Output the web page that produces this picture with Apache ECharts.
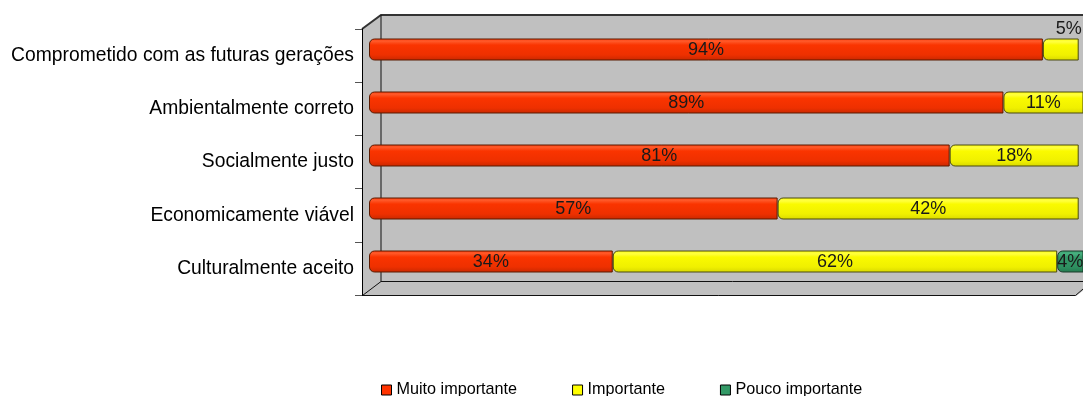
<!DOCTYPE html>
<html>
<head>
<meta charset="utf-8">
<script src="https://cdn.jsdelivr.net/npm/echarts@6/dist/echarts.min.js"></script>
<style>
html,body{margin:0;padding:0;background:#fff;}
#chart{width:1083px;height:396px;}
</style>
</head>
<body>
<div id="chart"></div>
<script>
const categories = ['Comprometido com as futuras gerações', 'Ambientalmente correto', 'Socialmente justo', 'Economicamente viável', 'Culturalmente aceito'];
const seriesNames = ['Muito importante', 'Importante', 'Pouco importante'];
const muitoImportante = [94, 88.5, 81, 57, 34];
const importante = [5, 11.4, 18, 42, 62];
const poucoImportante = [0, 0, 0, 0, 4];

const FONT = 'Liberation Sans, Arial, sans-serif';
const chart = echarts.init(document.getElementById('chart'), null, {renderer: 'canvas'});

function grad(stops) {
  return {type: 'linear', x: 0, y: 0, x2: 0, y2: 1,
    colorStops: stops.map(s => ({offset: s[0], color: s[1]}))};
}
const styles = [
  {fill: grad([[0, '#FF3A0A'], [0.12, '#FF5A2A'], [0.3, '#FA3400'], [0.75, '#EE3000'], [1, '#C82800']]), border: '#5A1A00', legend: '#FF3300'},
  {fill: grad([[0, '#FFFF10'], [0.15, '#FFFF40'], [0.3, '#FAFA00'], [0.75, '#F0F000'], [1, '#D8D800']]), border: '#4A4A10', legend: '#FFFF00'},
  {fill: grad([[0, '#3AA070'], [0.15, '#48B080'], [0.3, '#349868'], [0.75, '#2E9060'], [1, '#247A50']]), border: '#1A3A2A', legend: '#339966'}
];
const values = [muitoImportante, importante, poucoImportante];

const labelBase = {
  show: true, position: 'inside', offset: [0, 1], color: '#1a1a1a', fontSize: 18, fontFamily: FONT,
  formatter: p => Math.round(p.value) + '%'
};

const series = values.map((arr, si) => ({
  name: seriesNames[si],
  type: 'bar',
  stack: 'total',
  xAxisIndex: 1,
  yAxisIndex: 1,
  barWidth: 22,
  z: 3,
  itemStyle: {color: styles[si].fill, borderColor: styles[si].border, borderWidth: 1, borderRadius: [5, 0, 0, 5]},
  label: labelBase,
  data: arr.map(v => {
    if (!(v > 0)) return '-';
    if (v < 8 && si === 1) {
      return {value: v, label: {position: 'top', distance: 0, offset: [8, 0]}};
    }
    return v;
  })
}));

const option = {
  animation: false,
  backgroundColor: '#fff',
  textStyle: {fontFamily: FONT},
  legend: {
    left: 381, top: 382, padding: 0,
    icon: 'rect', itemWidth: 10, itemHeight: 10, itemGap: 55,
    textStyle: {fontSize: 16.2, color: '#000', fontFamily: FONT},
    data: seriesNames.map((n, i) => ({name: n, itemStyle: {color: styles[i].legend, borderColor: '#000', borderWidth: 1}}))
  },
  graphic: [
    {type: 'polygon', z: -10, silent: true,
      shape: {points: [[362, 29], [381, 15], [1095, 15], [1095, 282], [1076, 296], [362, 296]]},
      style: {fill: '#C0C0C0', stroke: 'none'}},
    {type: 'polyline', z: -5, silent: true,
      shape: {points: [[362, 29], [381, 15], [1095, 15]]},
      style: {stroke: '#333', lineWidth: 2, fill: 'none'}},
    {type: 'polyline', z: -5, silent: true,
      shape: {points: [[381, 15], [381, 281.5], [1095, 281.5]]},
      style: {stroke: '#111', lineWidth: 1, fill: 'none'}},
    {type: 'polyline', z: -5, silent: true,
      shape: {points: [[362.5, 295.5], [381, 281.5]]},
      style: {stroke: '#111', lineWidth: 1, fill: 'none'}},
    {type: 'polyline', z: -5, silent: true,
      shape: {points: [[362, 295.5], [1075.5, 295.5], [1090, 283]]},
      style: {stroke: '#111', lineWidth: 1, fill: 'none'}}
  ],
  grid: [
    {left: 362, top: 29, width: 716, height: 266},
    {left: 369, top: 23, right: 0, height: 265}
  ],
  xAxis: [
    {type: 'value', gridIndex: 0, min: 0, max: 100, show: false},
    {type: 'value', gridIndex: 1, min: 0, max: 99.6, show: false}
  ],
  yAxis: [
    {type: 'category', gridIndex: 0, data: categories, inverse: true, z: 1,
      axisLine: {show: true, lineStyle: {color: '#000', width: 1}},
      axisTick: {show: true, length: 7, lineStyle: {color: '#555'}},
      axisLabel: {margin: 8, fontSize: 19.3, color: '#000', fontFamily: FONT},
      splitLine: {show: false}},
    {type: 'category', gridIndex: 1, data: categories, inverse: true, show: false}
  ],
  series: series
};
chart.setOption(option);
</script>
</body>
</html>
